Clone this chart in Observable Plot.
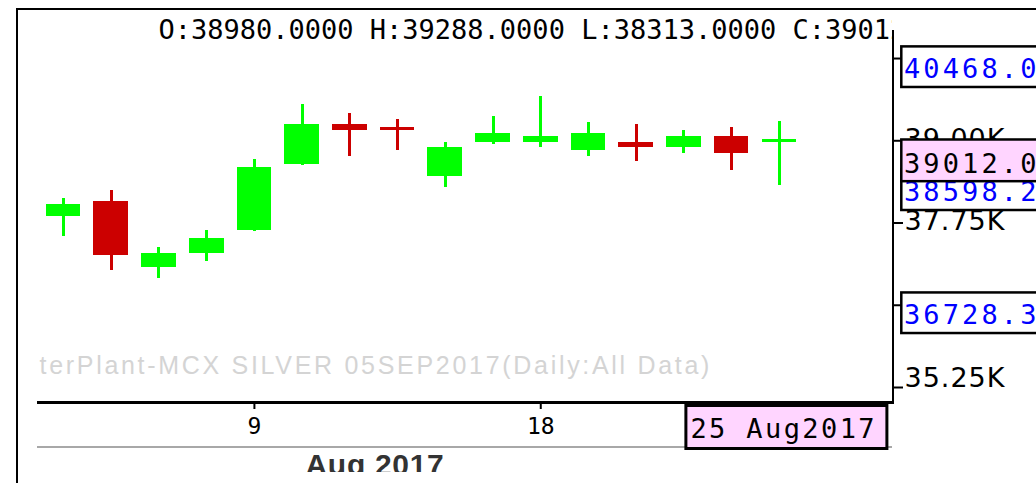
<!DOCTYPE html>
<html>
<head>
<meta charset="utf-8">
<script src="https://cdn.jsdelivr.net/npm/d3@7"></script>
<script src="https://cdn.jsdelivr.net/npm/@observablehq/plot@0.6"></script>
<style>
  html, body { margin: 0; padding: 0; background: #fff; width: 1036px; height: 483px; overflow: hidden; }
  #chart { position: absolute; left: 0; top: 0; }
  #chart svg { overflow: hidden; }
  #frame { position: absolute; left: 16px; top: 8px; width: 1018px; height: 473px;
           border-left: 2px solid #000; border-top: 2px solid #000; pointer-events: none; }
</style>
</head>
<body>
<div id="chart"></div>
<div id="frame"></div>
<script>
// ---- data (MCX SILVER 05SEP2017, daily, Aug 2017) ----
const days   = [3, 4, 7, 8, 9, 10, 11, 14, 16, 17, 18, 21, 22, 23, 24, 25];
const opens  = [37849, 38077, 37074, 37286, 37636, 38639, 39247, 39201, 38457, 38973, 38973, 38852, 38973, 38897, 39065, 38980];
const highs  = [38122, 38244, 37378, 37636, 38715, 39551, 39414, 39323, 38973, 39368, 39672, 39277, 39247, 39156, 39201, 39288];
const lows   = [37545, 37028, 36906, 37165, 37620, 38630, 38761, 38852, 38290, 38943, 38897, 38761, 38685, 38806, 38548, 38313];
const closes = [38031, 37256, 37286, 37514, 38593, 39247, 39156, 39156, 38897, 39110, 39065, 39110, 38897, 39065, 38806, 39012];

const xTickIndex = [4, 10];                              // day 9 and day 18
const yTicks = [35250, 36500, 37750, 39000, 40250];
const yTickLabels = [35250, 37750, 39000];               // labels not hidden by markers
const markerValues = [40468.0, 36728.3, 38598.2];        // blue value markers
const titleText = "terPlant-MCX SILVER 05SEP2017(Daily:All Data)";
const monthLabel = "Aug 2017";
const cursorLabel = "25 Aug2017";

// ---- styles ----
const UP = "#00ff00", DOWN = "#cc0000", PINK = "#ffd5ff", BLUE = "#0000ff";
const BODY_HALF = 0.363;
const MONO = "DejaVu Sans Mono";

const candles = days.map((d, i) => ({
  i, day: d, open: opens[i], high: highs[i], low: lows[i], close: closes[i]
}));
const last = candles[candles.length - 1];
const headerText = `O:${last.open.toFixed(4)} H:${last.high.toFixed(4)} L:${last.low.toFixed(4)} C:${last.close.toFixed(4)}`;
const candleColor = d => d.close >= d.open ? UP : DOWN;
const fmtK = v => (v / 1000).toFixed(2) + "K";

function overlay(index, scales, values, dims) {
  const {width, height, marginTop, marginRight, marginBottom, marginLeft} = dims;
  const xR = width - marginRight, yB = height - marginBottom;
  const g = d3.create("svg:g").attr("text-anchor", "start");
  // axis lines
  g.append("line").attr("x1", xR + 1).attr("x2", xR + 1)
    .attr("y1", marginTop + 20).attr("y2", yB + 2)
    .attr("stroke", "#000").attr("stroke-width", 2.4).attr("shape-rendering", "crispEdges");
  g.append("line").attr("x1", marginLeft).attr("x2", xR + 2.2)
    .attr("y1", yB + 0.5).attr("y2", yB + 0.5)
    .attr("stroke", "#000").attr("stroke-width", 3).attr("shape-rendering", "crispEdges");
  // separator between day row and month row
  g.append("line").attr("x1", marginLeft).attr("x2", xR)
    .attr("y1", yB + 45).attr("y2", yB + 45)
    .attr("stroke", "#a8a8a8").attr("stroke-width", 2.4).attr("shape-rendering", "crispEdges");

  // value markers on the right
  const drawMarker = (v, fill, color, off, h, base) => {
    const top = scales.y(v) + off;
    g.append("rect").attr("x", xR + 9.3).attr("y", top).attr("width", 220).attr("height", h)
      .attr("fill", fill).attr("stroke", "#000").attr("stroke-width", 2.5);
    g.append("text").attr("x", xR + 12).attr("y", top + base).attr("text-anchor", "start")
      .attr("fill", color).attr("font-family", MONO).attr("font-size", 27)
      .attr("letter-spacing", "3.1px").text(v.toFixed(1));
  };
  markerValues.forEach(v => drawMarker(v, "#fff", BLUE, 2.7, 40.6, 32));
  drawMarker(last.close, PINK, "#000", 0, 41.7, 33.6);

  // cursor date box
  const cx = scales.x(last.i);
  g.append("rect").attr("x", cx - 93).attr("y", yB + 3.5).attr("width", 201).attr("height", 43)
    .attr("fill", PINK).attr("stroke", "#000").attr("stroke-width", 3);
  g.append("text").attr("x", cx - 88.5).attr("y", yB + 36).attr("text-anchor", "start")
    .attr("fill", "#000").attr("font-family", MONO).attr("font-size", 27)
    .attr("letter-spacing", "2.4px").text(cursorLabel);
  return g.node();
}

const yLabelOpts = {
  y: d => d, text: fmtK, frameAnchor: "right", textAnchor: "start", lineAnchor: "middle",
  dx: 12, fill: "#000", fontFamily: "DejaVu Sans", fontSize: 27
};

const chart = Plot.plot({
  width: 1036,
  height: 472,
  marginTop: 10,
  marginRight: 144,
  marginBottom: 70,
  marginLeft: 37,
  style: {background: "transparent", overflow: "hidden", fontFamily: "DejaVu Sans", color: "#000"},
  x: {domain: [-0.545, 17.37], axis: null},
  y: {domain: [35022, 40980], axis: null},
  marks: [
    Plot.text([titleText], {
      text: d => d, frameAnchor: "bottom-left", textAnchor: "start", lineAnchor: "middle",
      dx: 2, dy: -37, fill: "#d4d4d4", fontFamily: "Liberation Sans", fontSize: 25,
      clip: true
    }),
    Plot.ruleX(candles, {
      x: "i", y1: "low", y2: "high", stroke: candleColor, strokeWidth: 3,
      shapeRendering: "crispEdges"
    }),
    Plot.rect(candles, {
      x1: d => d.i - BODY_HALF, x2: d => d.i + BODY_HALF, y1: "open", y2: "close",
      fill: candleColor, shapeRendering: "crispEdges"
    }),
    Plot.text([headerText], {
      text: d => d, frameAnchor: "top-left", textAnchor: "start", lineAnchor: "top",
      dx: 121, dy: 9.5, fill: "#000", fontFamily: MONO, fontSize: 27, clip: true
    }),
    Plot.axisY(yTicks, {anchor: "right", tickSize: 10, strokeWidth: 2, fill: "none", label: null}),
    Plot.text(yTickLabels.filter(v => v !== yTicks[0]), {...yLabelOpts, dy: -1.5}),
    Plot.text(yTickLabels.filter(v => v === yTicks[0]), {...yLabelOpts, dy: -9.6}),
    Plot.axisX(xTickIndex, {
      anchor: "bottom", tickSize: 7, tickPadding: 8, strokeWidth: 2, label: null,
      tickFormat: i => String(days[i]), fontFamily: MONO, fontSize: 23, fill: "#000"
    }),
    overlay,
    Plot.text([monthLabel], {
      text: d => d, frameAnchor: "bottom-left", textAnchor: "start", lineAnchor: "middle",
      dx: 268, dy: 62.4, fill: "#333", fontFamily: "Liberation Sans", fontWeight: "bold",
      fontSize: 30
    })
  ]
});
// letter spacing (not a Plot text option): set it by text content
const spacing = new Map([[titleText, "2.7px"], [monthLabel, "0.7px"]]);
yTickLabels.forEach(v => spacing.set(fmtK(v), "1px"));
d3.select(chart).selectAll("text").each(function() {
  const s = spacing.get(this.textContent);
  if (s) this.setAttribute("letter-spacing", s);
});
document.getElementById("chart").append(chart);
</script>
</body>
</html>
